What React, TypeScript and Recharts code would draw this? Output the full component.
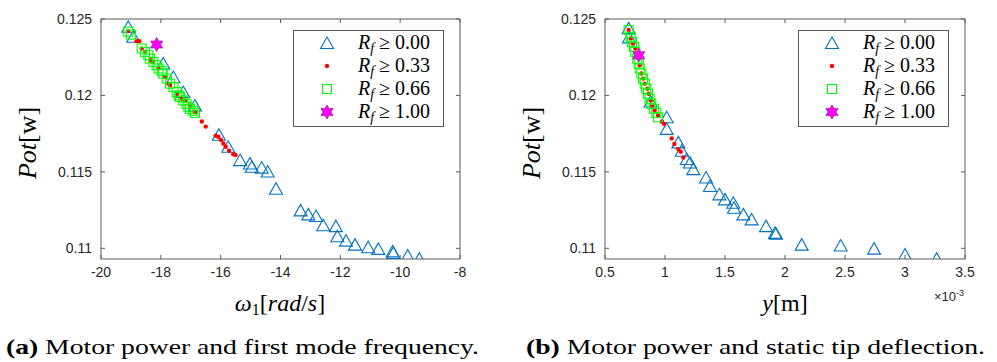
import React from "react";
import { ScatterChart, Scatter, XAxis, YAxis, ReferenceArea, Legend } from "recharts";

// tick values
const omegaTicks = [-20, -18, -16, -14, -12, -10, -8];
const deflTicks = [0.5, 1, 1.5, 2, 2.5, 3, 3.5];
const potTicks = [0.11, 0.115, 0.12, 0.125];
const rfLevels = ["0.00", "0.33", "0.66", "1.00"];

// (a) first mode frequency [rad/s] vs motor power [w]
const omegaRf000: [number, number][] = [
  [-19.09, 0.12449], [-18.92, 0.12384], [-17.92, 0.12209], [-17.58, 0.1212], [-17.25, 0.12022],
  [-16.86, 0.11934], [-16.06, 0.11743], [-15.75, 0.11664], [-15.35, 0.11577], [-15.02, 0.11555],
  [-14.96, 0.11533], [-14.63, 0.11528], [-14.43, 0.11502], [-14.15, 0.1139], [-13.33, 0.11248],
  [-13.07, 0.11222], [-12.81, 0.11211], [-12.57, 0.11151], [-12.15, 0.11145], [-12.1, 0.11079],
  [-11.81, 0.1105], [-11.51, 0.11024], [-11.07, 0.11007], [-10.73, 0.10996], [-10.25, 0.1098],
  [-10.23, 0.10969], [-9.75, 0.10952], [-9.36, 0.10932],
];
const omegaRf033: [number, number][] = [
  [-19.09, 0.12421], [-18.81, 0.12355], [-18.72, 0.12355], [-18.64, 0.12307], [-18.53, 0.12285],
  [-18.34, 0.1223], [-18.27, 0.12219], [-18.08, 0.12176], [-17.86, 0.1212], [-17.75, 0.12077],
  [-17.69, 0.12066], [-17.47, 0.12011], [-17.3, 0.11978], [-17.19, 0.11967], [-17.03, 0.11934],
  [-16.86, 0.1189], [-16.63, 0.11829], [-16.5, 0.11796], [-16.17, 0.11737], [-16.08, 0.1173],
  [-15.99, 0.11709], [-15.91, 0.11686], [-15.83, 0.11664], [-15.72, 0.11638], [-15.58, 0.11616],
  [-15.5, 0.1161],
];
const omegaRf066: [number, number][] = [
  [-19.09, 0.12417], [-19.0, 0.12398], [-18.64, 0.12307], [-18.53, 0.12285], [-18.42, 0.12263],
  [-18.36, 0.12241], [-18.25, 0.12219], [-18.14, 0.12198], [-18.08, 0.12176], [-17.97, 0.1216],
  [-17.92, 0.12143], [-17.8, 0.1211], [-17.69, 0.12077], [-17.58, 0.12055], [-17.47, 0.12022],
  [-17.4, 0.12], [-17.36, 0.11989], [-17.25, 0.11967], [-17.14, 0.11945], [-17.08, 0.11925],
  [-17.03, 0.11912], [-16.92, 0.119], [-16.86, 0.11886],
];
const omegaRf100: [number, number][] = [[-18.14, 0.12333]];

// (b) static tip deflection [x1e-3 m] vs motor power [w]
const deflRf000: [number, number][] = [
  [0.697, 0.12439], [0.7, 0.1238], [0.88, 0.1196], [1.014, 0.11857], [1.014, 0.11781],
  [1.111, 0.11693], [1.139, 0.11638], [1.181, 0.11584], [1.208, 0.11561], [1.236, 0.11518],
  [1.342, 0.11463], [1.375, 0.11408], [1.453, 0.11353], [1.5, 0.1132], [1.569, 0.11298],
  [1.575, 0.11265], [1.653, 0.11222], [1.722, 0.11189], [1.842, 0.11145], [1.917, 0.11101],
  [1.925, 0.11095], [2.139, 0.11024], [2.464, 0.11018], [2.742, 0.10998], [3.0, 0.10959],
  [3.264, 0.10932],
];
const deflRf033: [number, number][] = [
  [0.697, 0.12428], [0.714, 0.12373], [0.733, 0.1234], [0.753, 0.12307], [0.775, 0.12246],
  [0.789, 0.12197], [0.803, 0.12143], [0.817, 0.1211], [0.831, 0.12077], [0.853, 0.12044],
  [0.864, 0.12011], [0.881, 0.11967], [0.894, 0.11934], [0.914, 0.11901], [0.942, 0.11868],
  [0.975, 0.11829], [0.992, 0.11814], [1.056, 0.11719], [1.078, 0.11682], [1.111, 0.11649],
  [1.131, 0.11632], [1.153, 0.11594],
];
const deflRf066: [number, number][] = [
  [0.697, 0.12428], [0.714, 0.12384], [0.725, 0.12351], [0.742, 0.12318], [0.753, 0.12285],
  [0.769, 0.12241], [0.781, 0.12209], [0.789, 0.12176], [0.803, 0.12143], [0.817, 0.1211],
  [0.831, 0.12077], [0.844, 0.12044], [0.858, 0.12011], [0.872, 0.11978], [0.886, 0.11945],
  [0.908, 0.11912], [0.928, 0.11886], [0.942, 0.11857],
];
const deflRf100: [number, number][] = [[0.781, 0.12263]];

const toPts = (a: [number, number][]) => a.map(([x, y]) => ({ x, y }));

const AX = "#5a5a5a";
const TXT = "#262626";
const BLUE = "#0072BD";
const PLOT_TOP = 19;
const Y_MIN = 0.1093;
const Y_MAX = 0.125;
const serif = "'Liberation Serif', 'DejaVu Serif', serif";
const sans = "'Liberation Sans', Arial, sans-serif";

const Tri = ({ cx, cy }: any) => (
  <path d={`M${cx},${cy - 6} L${cx + 6.5},${cy + 5.5} L${cx - 6.5},${cy + 5.5} Z`} fill="none" stroke={BLUE} strokeWidth={1.1} />
);
const Dot = ({ cx, cy }: any) => <circle cx={cx} cy={cy} r={2.2} fill="#FF0000" />;
const Sq = ({ cx, cy }: any) => (
  <rect x={cx - 4.5} y={cy - 4.5} width={9} height={9} fill="none" stroke="#00FF00" strokeWidth={1.1} />
);
const Star = ({ cx, cy }: any) => {
  const pts: string[] = [];
  for (let i = 0; i < 12; i++) {
    const r = i % 2 === 0 ? 7 : 4;
    const a = (Math.PI / 6) * i - Math.PI / 2;
    pts.push(`${cx + r * Math.cos(a)},${cy + r * Math.sin(a)}`);
  }
  return <polygon points={pts.join(" ")} fill="#FF00FF" stroke="#9a2a9a" strokeWidth={0.8} />;
};
const shapes = [Tri, Dot, Sq, Star];

const makeXTick = (fmt: (v: number) => string) => (p: any) => {
  const { x, y, payload } = p;
  return (
    <g>
      <line x1={x} y1={y} x2={x} y2={y - 4} stroke={AX} />
      <line x1={x} y1={PLOT_TOP} x2={x} y2={PLOT_TOP + 4} stroke={AX} />
      <text x={x} y={y + 18} textAnchor="middle" fontSize={14} fill={TXT} fontFamily={sans}>
        {fmt(payload.value)}
      </text>
    </g>
  );
};
const makeYTick = (right: number) => (p: any) => {
  const { x, y, payload } = p;
  return (
    <g>
      <line x1={x} y1={y} x2={x + 4} y2={y} stroke={AX} />
      <line x1={right - 4} y1={y} x2={right} y2={y} stroke={AX} />
      <text x={x - 9} y={y + 5} textAnchor="end" fontSize={14} fill={TXT} fontFamily={sans}>
        {String(payload.value)}
      </text>
    </g>
  );
};

const LegendBox = () => (
  <svg width={151} height={97} style={{ display: "block" }}>
    <rect x={0.5} y={0.5} width={150} height={96} fill="#fff" stroke={AX} />
    {rfLevels.map((lv, i) => {
      const S = shapes[i];
      const cy = 13 + i * 23;
      return (
        <g key={lv}>
          <S cx={34} cy={cy} />
          <text x={65} y={cy + 6} fontSize={20} fill="#000" fontFamily={serif}>
            <tspan fontStyle="italic">R</tspan>
            <tspan fontStyle="italic" fontSize={14} dy={4}>f</tspan>
            <tspan dy={-4}>{" \u2265 " + lv}</tspan>
          </text>
        </g>
      );
    })}
  </svg>
);

type PanelProps = {
  left: number;
  marginLeft: number;
  marginRight: number;
  xTicks: number[];
  xDomain: [number, number];
  fmt: (v: number) => string;
  series: [number, number][][];
};

const Panel = ({ left, marginLeft, marginRight, xTicks, xDomain, fmt, series }: PanelProps) => {
  const W = 480;
  const right = W - marginRight;
  return (
    <div style={{ position: "absolute", left, top: 0 }}>
      <ScatterChart width={W} height={300} margin={{ top: PLOT_TOP, right: marginRight, bottom: 11, left: marginLeft }}>
        <XAxis
          dataKey="x"
          type="number"
          domain={xDomain}
          ticks={xTicks}
          interval={0}
          allowDataOverflow
          axisLine={false}
          tickLine={false}
          tickSize={0}
          tickMargin={0}
          height={30}
          tick={makeXTick(fmt)}
        />
        <YAxis
          dataKey="y"
          type="number"
          domain={[Y_MIN, Y_MAX]}
          ticks={potTicks}
          interval={0}
          allowDataOverflow
          axisLine={false}
          tickLine={false}
          tickSize={0}
          tickMargin={0}
          width={60}
          tick={makeYTick(right)}
        />
        <ReferenceArea x1={xDomain[0]} x2={xDomain[1]} y1={Y_MIN} y2={Y_MAX} fill="none" stroke={AX} strokeWidth={1} />
        {series.map((s, i) => (
          <Scatter key={i} data={toPts(s)} shape={shapes[i]} isAnimationActive={false} />
        ))}
        <Legend
          layout="vertical"
          align="center"
          verticalAlign="middle"
          content={() => <LegendBox />}
          wrapperStyle={{ left: right - 167, top: 30, width: 151, height: 97 }}
        />
      </ScatterChart>
    </div>
  );
};

export default function App() {
  return (
    <div style={{ position: "absolute", left: 0, top: 0, width: 997, height: 362, background: "#fff", overflow: "hidden" }}>
      <Panel
        left={0}
        marginLeft={41}
        marginRight={20}
        xTicks={omegaTicks}
        xDomain={[-20, -8]}
        fmt={(v) => String(v)}
        series={[omegaRf000, omegaRf033, omegaRf066, omegaRf100]}
      />
      <Panel
        left={500}
        marginLeft={45}
        marginRight={15}
        xTicks={deflTicks}
        xDomain={[0.5, 3.5]}
        fmt={(v) => String(v)}
        series={[deflRf000, deflRf033, deflRf066, deflRf100]}
      />

      {/* y labels */}
      {[28, 532].map((cx) => (
        <div
          key={cx}
          style={{
            position: "absolute", left: cx - 60, top: 143 - 15, width: 120, height: 30, lineHeight: "30px",
            textAlign: "center", transform: "rotate(-90deg)", fontFamily: serif, fontSize: 26, color: "#000",
          }}
        >
          <i>Pot</i>[w]
        </div>
      ))}

      {/* x labels */}
      <div style={{ position: "absolute", left: 180, top: 290, width: 200, textAlign: "center", fontFamily: serif, fontSize: 24, color: "#000" }}>
        <i>&omega;</i><span style={{ fontSize: 16, verticalAlign: -4 }}>1</span>[<i>rad</i>/<i>s</i>]
      </div>
      <div style={{ position: "absolute", left: 685, top: 290, width: 200, textAlign: "center", fontFamily: serif, fontSize: 24, color: "#000" }}>
        <i>y</i>[m]
      </div>
      <div style={{ position: "absolute", left: 934, top: 288, fontFamily: sans, fontSize: 13, color: TXT }}>
        &times;10<sup style={{ fontSize: 9 }}>-3</sup>
      </div>

      {/* captions */}
      <svg width={997} height={32} style={{ position: "absolute", left: 0, top: 330 }}>
        <text x={6} y={24} fontSize={22} fontFamily={serif} fill="#000" textLength={473} lengthAdjust="spacingAndGlyphs">
          <tspan fontWeight="bold">(a)</tspan> Motor power and first mode frequency.
        </text>
        <text x={526} y={24} fontSize={22} fontFamily={serif} fill="#000" textLength={459} lengthAdjust="spacingAndGlyphs">
          <tspan fontWeight="bold">(b)</tspan> Motor power and static tip deflection.
        </text>
      </svg>
    </div>
  );
}
